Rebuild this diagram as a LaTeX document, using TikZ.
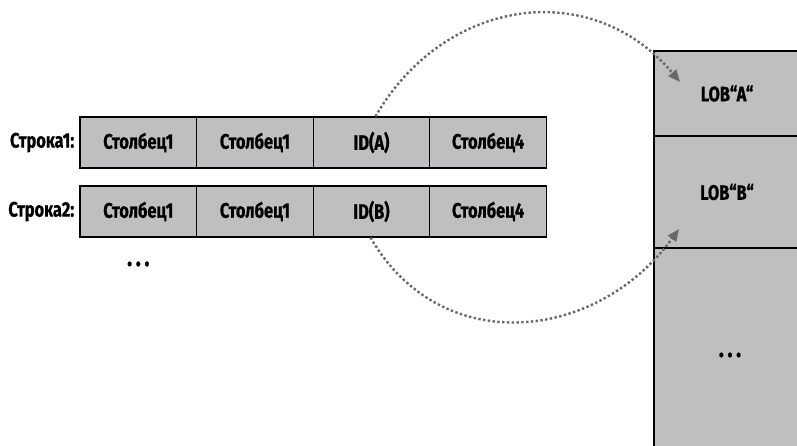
\documentclass[tikz,border=0pt]{standalone}
\usepackage{fontspec}
\setmainfont{Fira Sans}[FakeStretch=0.78, BoldFeatures={FakeBold=0.8}]
\usepackage{tikz}
\usetikzlibrary{arrows.meta, positioning}
\definecolor{cellgray}{RGB}{191, 191, 193}
\definecolor{arcgray}{RGB}{105, 105, 105}
\newcommand{\moredots}{.\hspace{3.6pt}.\hspace{3.6pt}.}

\begin{document}
\begin{tikzpicture}[
    x=1pt, y=1pt,
    cell/.style={rectangle, draw=black, fill=cellgray, line width=1.1pt, minimum width=116.6pt, minimum height=51pt, inner sep=0pt, font=\fontsize{21}{24}\selectfont\bfseries},
    lobcell/.style={rectangle, draw=black, fill=cellgray, line width=1.1pt, minimum width=146pt, inner sep=0pt, font=\fontsize{21}{24}\selectfont\bfseries},
    rowlabel/.style={font=\fontsize{21}{24}\selectfont\bfseries, inner sep=0pt},
    dotlabel/.style={font=\fontsize{27}{30}\selectfont\bfseries, inner sep=0pt},
    lobarrow/.style={-{Triangle[length=12pt, width=10pt]}, arcgray, line width=2.4pt, dash pattern=on 2.4pt off 2.4pt}
]
\useasboundingbox (0, 0) rectangle (797, 446);
% rows of the table
\node[cell] (r1c1) at (138.3, 303.5) {Столбец1};
\node[cell] (r1c2) at (254.9, 303.5) {Столбец1};
\node[cell] (idA) at (371.5, 303.5) {ID(A)};
\node[cell] (r1c4) at (488.1, 303.5) {Столбец4};
\node[cell] (r2c1) at (138.3, 234.5) {Столбец1};
\node[cell] (r2c2) at (254.9, 234.5) {Столбец1};
\node[cell] (idB) at (371.5, 234.5) {ID(B)};
\node[cell] (r2c4) at (488.1, 234.5) {Столбец4};
\node[rowlabel, left=5pt of r1c1] (row1) {Строка1:};
\node[rowlabel, left=5pt of r2c1] (row2) {Строка2:};
\node[dotlabel] (rowdots) at (138.3, 182) {\moredots};
% LOB storage
\node[lobcell, minimum height=85pt] (lobA) at (727, 352.5) {LOB“A“};
\node[lobcell, minimum height=112pt] (lobB) at (727, 254) {LOB“B“};
\node[lobcell, minimum height=212pt] (lobrest) at (727, 92) {};
\node[dotlabel] (lobdots) at (730, 91) {\moredots};
% references
\coordinate (tipA) at (680, 364);
\coordinate (tipB) at (679, 217);
\draw[lobarrow] ([xshift=4pt]idA.north) to[out=60, in=130, looseness=1.15] (tipA);
\draw[lobarrow] ([xshift=-1pt]idB.south) to[out=-60, in=-126, looseness=1.16] (tipB);
\end{tikzpicture}
\end{document}
